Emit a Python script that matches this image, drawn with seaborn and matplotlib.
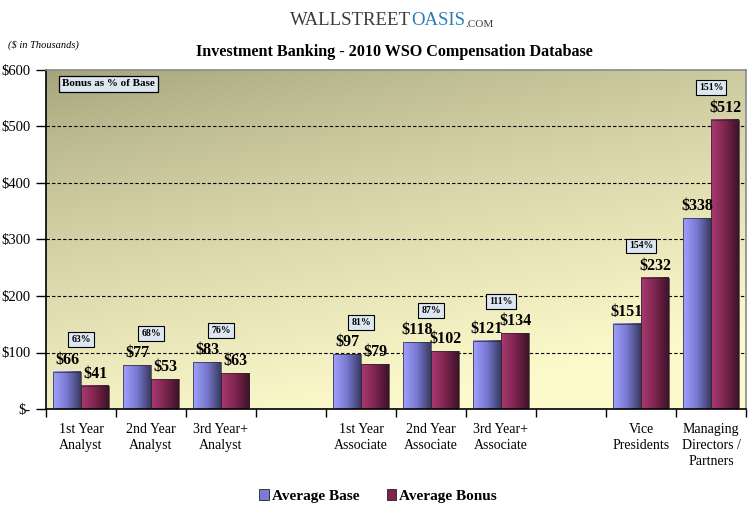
import numpy as np
import pandas as pd
import matplotlib
matplotlib.use("Agg")
import matplotlib.pyplot as plt
import seaborn as sns
from matplotlib.colors import LinearSegmentedColormap, to_rgb
from matplotlib.patches import Patch

# ---------------- data ----------------
roles = ["1st Year\nAnalyst", "2nd Year\nAnalyst", "3rd Year+\nAnalyst",
         "1st Year\nAssociate", "2nd Year\nAssociate", "3rd Year+\nAssociate",
         "Vice\nPresidents", "Managing\nDirectors /\nPartners"]
slot_order = ["1st Year\nAnalyst", "2nd Year\nAnalyst", "3rd Year+\nAnalyst", " ",
              "1st Year\nAssociate", "2nd Year\nAssociate", "3rd Year+\nAssociate", "  ",
              "Vice\nPresidents", "Managing\nDirectors /\nPartners"]
avg_base = [66, 77, 83, 97, 118, 121, 151, 338]
avg_bonus = [41, 53, 63, 79, 102, 134, 232, 512]
bonus_pct = [63, 68, 76, 81, 87, 111, 154, 151]
series = ["Average Base", "Average Bonus"]
y_ticks = [0, 100, 200, 300, 400, 500, 600]

df = pd.DataFrame({
    "role": roles * 2,
    "series": [series[0]] * len(roles) + [series[1]] * len(roles),
    "value": avg_base + avg_bonus,
})

SERIF = ["Liberation Serif", "DejaVu Serif"]
base_grad = ["#a0a0ff", "#7878d0", "#3a3a64"]
bonus_grad = ["#aa3a72", "#7e2550", "#3c1228"]
mid_cols = ["#7b7bd2", "#7e2550"]

fig = plt.figure(figsize=(7.5, 5.2), dpi=100)
fig.patch.set_facecolor("white")
W, H = 750.0, 520.0
ax = fig.add_axes([46 / W, 1 - 409 / H, 700 / W, 339 / H])

sns.barplot(data=df, x="role", y="value", hue="series", order=slot_order,
            hue_order=series, palette=mid_cols, width=0.8, saturation=1,
            errorbar=None, legend=False, ax=ax)

# background gradient
ny, nx = 200, 200
yy, xx = np.mgrid[0:1:ny * 1j, 0:1:nx * 1j]
t = np.clip(0.85 * yy + 0.35 * xx, 0, 1) ** 0.75
dark = np.array(to_rgb("#a4a27a"))
light = np.array(to_rgb("#fcf9cb"))
bg = dark[None, None, :] * (1 - t[..., None]) + light[None, None, :] * t[..., None]
ax.imshow(bg, extent=[0, 1, 0, 1], transform=ax.transAxes, aspect="auto",
          zorder=0, origin="upper", interpolation="bilinear")

# bar gradients + labels
cmaps = [LinearSegmentedColormap.from_list("b", base_grad),
         LinearSegmentedColormap.from_list("r", bonus_grad)]
grad = np.linspace(0, 1, 64)[None, :]
for cont, cm in zip(ax.containers, cmaps):
    for bar in cont:
        x0, w, h = bar.get_x(), bar.get_width(), bar.get_height()
        if np.isnan(h) or h == 0:
            continue
        ax.imshow(grad, extent=[x0, x0 + w, 0, h], aspect="auto", cmap=cm,
                  zorder=2.5, interpolation="bilinear")
        bar.set_facecolor("none")
        bar.set_edgecolor("#2a2a2a")
        bar.set_linewidth(0.5)
        bar.set_zorder(3)
        ax.annotate(f"${h:.0f}", xy=(x0 + w / 2, h), xytext=(0, 4),
                    textcoords="offset pixels", ha="center", va="bottom",
                    fontsize=11.5, fontweight="bold", family=SERIF, zorder=5)

# bonus % boxes
for role, b, bo, p in zip(roles, avg_base, avg_bonus, bonus_pct):
    xi = slot_order.index(role)
    ax.annotate(f"{p}%", xy=(xi, max(b, bo)), xytext=(0, 32),
                textcoords="offset pixels", ha="center", va="center",
                fontsize=7, fontweight="bold", family=SERIF, zorder=6,
                bbox=dict(boxstyle="square,pad=0.3", fc="#dde7f1", ec="black", lw=0.8))

ax.text(16 / 700, 0.959, "Bonus as % of Base", transform=ax.transAxes,
        ha="left", va="center", fontsize=8, fontweight="bold", family=SERIF, zorder=6,
        bbox=dict(boxstyle="square,pad=0.3", fc="#dde7f1", ec="black", lw=0.9))

# axes styling
ax.set_autoscale_on(False)
ax.set_xlim(-0.5, len(slot_order) - 0.5)
ax.set_ylim(0, 600)
ax.set_yticks(y_ticks)
ax.set_yticklabels(["$-" if v == 0 else f"${v}" for v in y_ticks],
                   fontsize=10.5, family=SERIF)
ax.set_xticks(range(len(slot_order)))
ax.set_xticklabels(slot_order, fontsize=10, family=SERIF, linespacing=1.3)
ax.set_xticks(np.arange(-0.5, len(slot_order)), minor=True)
ax.tick_params(axis="x", which="major", length=0, pad=10)
ax.tick_params(axis="x", which="minor", length=6, width=1, color="black")
ax.tick_params(axis="y", length=7, width=1, color="black", pad=4)
ax.set_xlabel("")
ax.set_ylabel("")
ax.yaxis.grid(True, linestyle=(0, (3, 2)), color="black", lw=0.8, zorder=1)
ax.set_axisbelow(True)
gl = ax.get_ygridlines()
gl[0].set_visible(False)
gl[-1].set_visible(False)
for s in ["left", "bottom"]:
    ax.spines[s].set_color("black")
    ax.spines[s].set_linewidth(1.2)
for s in ["top", "right"]:
    ax.spines[s].set_color("#8a8a8a")
    ax.spines[s].set_linewidth(1.2)

# titles
fig.text(394 / W, 1 - 52 / H, "Investment Banking - 2010 WSO Compensation Database",
         ha="center", va="center", fontsize=11.6, fontweight="bold", family=SERIF)
fig.text(8 / W, 1 - 45 / H, "($ in Thousands)", ha="left", va="center",
         fontsize=7.5, style="italic", family=SERIF)

# logo text
t1 = fig.text(290 / W, 1 - 25 / H, "WALLSTREET", ha="left", va="baseline",
              fontsize=13.5, family=SERIF, color="#3a3a3a")
t2 = ax.annotate("OASIS", xy=(1, 0), xycoords=t1, xytext=(0, 0), textcoords="offset points",
                 ha="left", va="bottom", fontsize=13.5, family=SERIF, color="#2a7db8",
                 annotation_clip=False)
t3 = ax.annotate(".COM", xy=(1, 0), xycoords=t2, xytext=(0, 0), textcoords="offset points",
                 ha="left", va="bottom", fontsize=8, family=SERIF, color="#3a3a3a",
                 annotation_clip=False)

# legend
handles = [Patch(facecolor=c, edgecolor="#222222", lw=0.6) for c in mid_cols]
fig.legend(handles, series, loc="center", bbox_to_anchor=(378 / W, 1 - 496 / H),
           ncol=2, frameon=False, handlelength=0.6, handleheight=0.7,
           handletextpad=0.2, columnspacing=1.8,
           prop=dict(family=SERIF, weight="bold", size=11))

fig.savefig("out.png", dpi=100)
